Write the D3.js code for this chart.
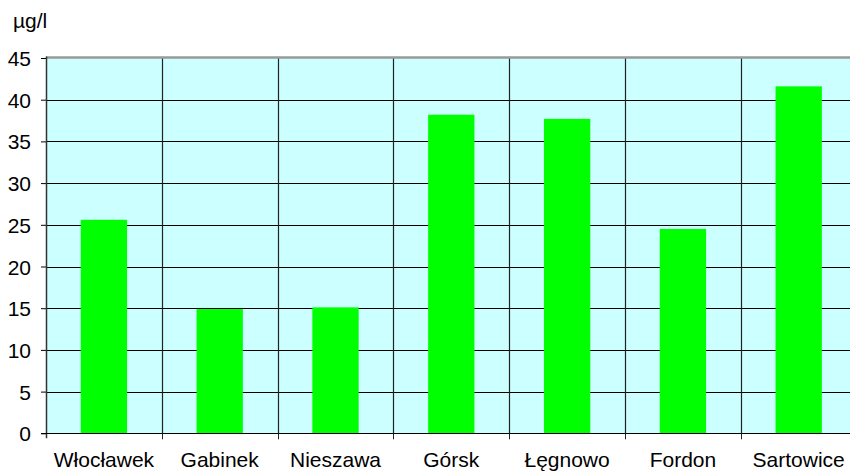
<!DOCTYPE html>
<html>
<head>
<meta charset="utf-8">
<script src="https://cdn.jsdelivr.net/npm/d3@7"></script>
<style>
  body { margin: 0; background: #fff; }
  svg text { font-family: Arial, "Liberation Sans", sans-serif; fill: #000; }
</style>
</head>
<body>
<svg id="chart"></svg>
<script>
var categories = ["Włocławek", "Gabinek", "Nieszawa", "Górsk", "Łęgnowo", "Fordon", "Sartowice"];
var values = [25.6, 14.9, 15.1, 38.2, 37.7, 24.5, 41.6];
var yTicks = [0, 5, 10, 15, 20, 25, 30, 35, 40, 45];
var unitLabel = "µg/l";

var width = 850, height = 472;
var plotLeft = 46, plotTop = 58, plotBottom = 433.3, plotRight = 46 + 7 * 115.8;

var svg = d3.select('#chart')
    .attr('width', width)
    .attr('height', height);

var x = d3.scaleBand()
    .domain(categories)
    .range([plotLeft, plotRight])
    .paddingInner(0.6)
    .paddingOuter(0.3);

var step = x.step();

var y = d3.scaleLinear()
    .domain([0, 45])
    .range([plotBottom, plotTop]);

function sepX(d) { return Math.round(x(d) - step * 0.3) + 0.5; }

// plot background
svg.append('rect')
    .attr('x', plotLeft)
    .attr('y', plotTop)
    .attr('width', plotRight - plotLeft)
    .attr('height', plotBottom - plotTop)
    .style('fill', '#ccffff');

// horizontal grid
svg.append('g')
    .selectAll('line')
    .data(yTicks.filter(function (d) { return d > 0 && d < 45; }))
    .enter().append('line')
    .attr('x1', plotLeft)
    .attr('x2', plotRight)
    .attr('y1', function (d) { return Math.round(y(d)) + 0.5; })
    .attr('y2', function (d) { return Math.round(y(d)) + 0.5; })
    .style('stroke', '#000')
    .style('stroke-width', 1);

// vertical separators between categories
svg.append('g')
    .selectAll('line')
    .data(categories.slice(1))
    .enter().append('line')
    .attr('x1', sepX)
    .attr('x2', sepX)
    .attr('y1', plotTop)
    .attr('y2', plotBottom)
    .style('stroke', '#222')
    .style('stroke-width', 1.2);

// top border
svg.append('line')
    .attr('x1', plotLeft)
    .attr('x2', plotRight)
    .attr('y1', plotTop - 0.5)
    .attr('y2', plotTop - 0.5)
    .style('stroke', '#999')
    .style('stroke-width', 2.5);

// bars
svg.append('g')
    .selectAll('rect')
    .data(values)
    .enter().append('rect')
    .attr('x', function (d, i) { return x(categories[i]); })
    .attr('width', x.bandwidth())
    .attr('y', function (d) { return y(d); })
    .attr('height', function (d) { return y(0) - y(d); })
    .style('fill', '#00ff00');

// y axis
var yAxis = d3.axisLeft(y)
    .tickValues(yTicks)
    .tickSize(5)
    .tickPadding(10)
    .tickFormat(d3.format('d'));

var gy = svg.append('g')
    .attr('transform', 'translate(' + plotLeft + ',0)')
    .call(yAxis);
gy.select('.domain').remove();
gy.selectAll('.tick line').style('stroke', '#000');
gy.selectAll('.tick text')
    .style('font-size', '21px')
    .attr('dy', '0.36em');

svg.append('line')
    .attr('x1', plotLeft + 0.5)
    .attr('x2', plotLeft + 0.5)
    .attr('y1', plotTop - 1.5)
    .attr('y2', plotBottom + 5)
    .style('stroke', '#333')
    .style('stroke-width', 1.5);

// x axis line + ticks at category boundaries
svg.append('line')
    .attr('x1', plotLeft - 5)
    .attr('x2', plotRight)
    .attr('y1', Math.round(plotBottom) + 0.5)
    .attr('y2', Math.round(plotBottom) + 0.5)
    .style('stroke', '#000')
    .style('stroke-width', 1.2);

svg.append('g')
    .selectAll('line')
    .data(categories.slice(1))
    .enter().append('line')
    .attr('x1', sepX)
    .attr('x2', sepX)
    .attr('y1', plotBottom)
    .attr('y2', plotBottom + 6)
    .style('stroke', '#222');

// category labels
svg.append('g')
    .selectAll('text')
    .data(categories)
    .enter().append('text')
    .attr('x', function (d) { return x(d) + x.bandwidth() / 2; })
    .attr('y', 467)
    .attr('text-anchor', 'middle')
    .style('font-size', '21px')
    .text(function (d) { return d; });

// unit label
svg.append('text')
    .attr('x', 13)
    .attr('y', 28)
    .style('font-size', '21px')
    .text(unitLabel);
</script>
</body>
</html>
